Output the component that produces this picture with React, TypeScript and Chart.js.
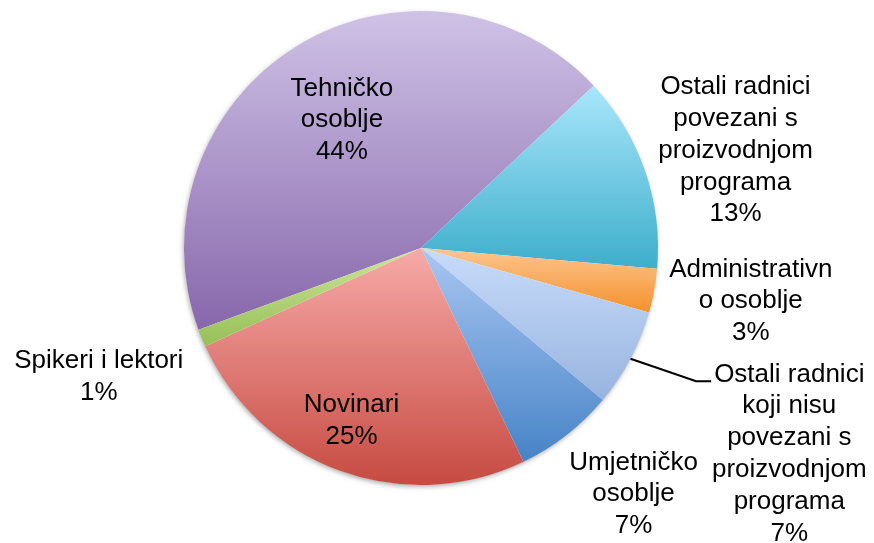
import React, { useEffect, useRef } from 'react';
import { Chart, registerables } from 'chart.js';

Chart.register(...registerables);

// ---- data ----
const categoryLines: string[][] = [
  ['Tehničko', 'osoblje'],
  ['Ostali radnici', 'povezani s', 'proizvodnjom', 'programa'],
  ['Administrativn', 'o osoblje'],
  ['Ostali radnici', 'koji nisu', 'povezani s', 'proizvodnjom', 'programa'],
  ['Umjetničko', 'osoblje'],
  ['Novinari'],
  ['Spikeri i lektori'],
];
const shares = [43.6, 13.4, 3.0, 6.7, 6.8, 25.3, 1.2];
const topColors = ['#cfc2e6', '#a9e6fb', '#fdc690', '#c8dcfb', '#a9c6f1', '#f7aaa8', '#cde59c'];
const bottomColors = ['#8767ab', '#3daecb', '#f5912c', '#97b3de', '#4683c7', '#c64b42', '#96bf55'];

// ---- layout (not data) ----
const ROTATION = 249.8;
const labelPlacement = [
  { da: 0.4, rf: 0.642, leader: false },
  { da: 1.55, rf: 1.392, leader: false },
  { da: -1.6, rf: 1.408, leader: false },
  { da: 1.1, rf: 1.776, leader: true },
  { da: -3.2, rf: 1.366, leader: false },
  { da: 2.2, rf: 0.778, leader: false },
  { da: 0.9, rf: 1.461, leader: false },
];
const FONT = '26px "Liberation Sans", Arial, Helvetica, sans-serif';
const LINE_H = 31.8;

function sliceGradient(c: any) {
  const i = c.dataIndex ?? 0;
  const chart = c.chart;
  const area = chart.chartArea;
  if (!area) return topColors[i];
  const cx = (area.left + area.right) / 2;
  const cy = (area.top + area.bottom) / 2;
  const r = Math.min(area.right - area.left, area.bottom - area.top) / 2;
  const total = shares.reduce((a, b) => a + b, 0);
  let a0 = ((ROTATION - 90) * Math.PI) / 180;
  for (let j = 0; j < i; j++) a0 += (shares[j] / total) * Math.PI * 2;
  const a1 = a0 + (shares[i] / total) * Math.PI * 2;
  const ys = [cy, cy + r * Math.sin(a0), cy + r * Math.sin(a1)];
  for (let k = -8; k <= 8; k++) {
    const t = (k * Math.PI) / 2;
    if (t > a0 && t < a1) ys.push(cy + r * Math.sin(t));
  }
  const ymin = Math.min(...ys);
  const ymax = Math.max(...ys);
  const g = chart.ctx.createLinearGradient(0, ymin, 0, ymax + 0.01);
  g.addColorStop(0, topColors[i]);
  g.addColorStop(1, bottomColors[i]);
  return g;
}

const shadowPlugin = {
  id: 'pieShadow',
  beforeDatasetsDraw(chart: any) {
    const meta = chart.getDatasetMeta(0);
    const arc = meta.data[0];
    if (!arc) return;
    const { x, y, outerRadius } = arc.getProps(['x', 'y', 'outerRadius'], true);
    const ctx = chart.ctx;
    ctx.save();
    ctx.shadowColor = 'rgba(0,0,0,0.35)';
    ctx.shadowBlur = 5;
    ctx.shadowOffsetX = -1;
    ctx.shadowOffsetY = 2;
    ctx.fillStyle = '#ffffff';
    ctx.beginPath();
    ctx.arc(x, y, outerRadius - 0.5, 0, Math.PI * 2);
    ctx.fill();
    ctx.restore();
  },
};

const labelPlugin = {
  id: 'sliceLabels',
  afterDatasetsDraw(chart: any) {
    const meta = chart.getDatasetMeta(0);
    const ctx = chart.ctx;
    const total = shares.reduce((a, b) => a + b, 0);
    ctx.save();
    ctx.font = FONT;
    ctx.fillStyle = '#000000';
    ctx.textAlign = 'center';
    ctx.textBaseline = 'alphabetic';
    meta.data.forEach((arc: any, i: number) => {
      const { x, y, startAngle, endAngle, outerRadius } = arc.getProps(
        ['x', 'y', 'startAngle', 'endAngle', 'outerRadius'],
        true
      );
      const p = labelPlacement[i];
      const midArc = (startAngle + endAngle) / 2;
      const mid = midArc + (p.da * Math.PI) / 180;
      const ax = x + Math.cos(mid) * outerRadius * p.rf;
      const ay = y + Math.sin(mid) * outerRadius * p.rf;
      const lines = [...categoryLines[i], Math.round((shares[i] / total) * 100) + '%'];
      const n = lines.length;
      lines.forEach((t, k) => {
        const cyLine = ay + (k - (n - 1) / 2) * LINE_H;
        ctx.fillText(t, ax, cyLine + 9.3);
      });
      if (p.leader) {
        const w = ctx.measureText(lines[0]).width;
        const left = ax - w / 2;
        const ly = ay - ((n - 1) / 2) * LINE_H + 9;
        ctx.save();
        ctx.strokeStyle = '#000000';
        ctx.lineWidth = 2;
        ctx.beginPath();
        ctx.moveTo(x + Math.cos(midArc) * outerRadius, y + Math.sin(midArc) * outerRadius);
        ctx.lineTo(left - 18, ly);
        ctx.lineTo(left - 3, ly);
        ctx.stroke();
        ctx.restore();
      }
    });
    ctx.restore();
  },
};

export default function App() {
  const ref = useRef<HTMLCanvasElement | null>(null);
  useEffect(() => {
    if (!ref.current) return;
    const chart = new Chart(ref.current, {
      type: 'pie',
      data: {
        labels: categoryLines.map((l) => l.join(' ')),
        datasets: [
          {
            data: shares,
            backgroundColor: sliceGradient as any,
            borderWidth: 0,
            hoverOffset: 0,
          },
        ],
      },
      options: {
        animation: false,
        responsive: true,
        maintainAspectRatio: false,
        rotation: ROTATION,
        layout: { padding: { left: 184, right: 216, top: 11, bottom: 58 } },
        plugins: {
          legend: { display: false },
          tooltip: { enabled: false },
        },
        events: [],
      },
      plugins: [shadowPlugin, labelPlugin],
    });
    return () => chart.destroy();
  }, []);
  return (
    <div style={{ position: 'fixed', left: 0, top: 0, width: 874, height: 543, background: '#fff' }}>
      <canvas ref={ref} />
    </div>
  );
}
